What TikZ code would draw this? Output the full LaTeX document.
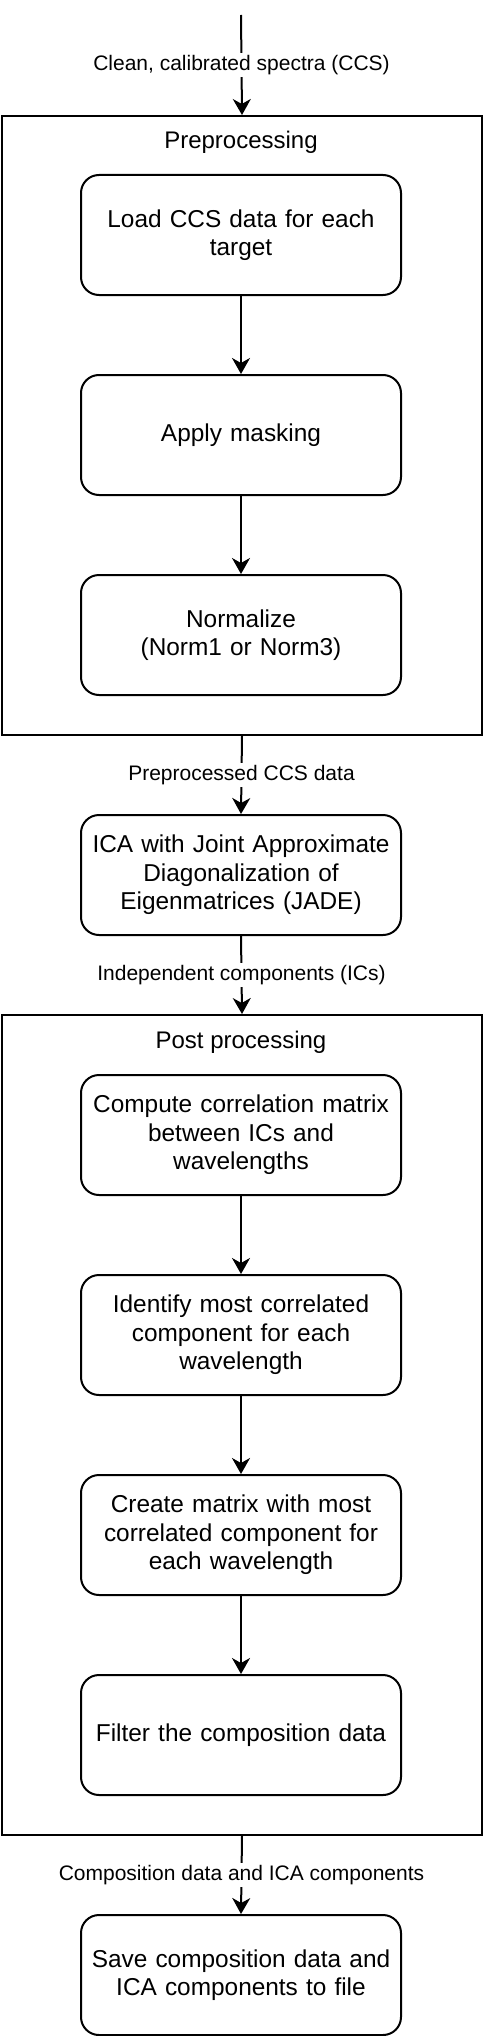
\documentclass[tikz,border=0pt]{standalone}
\usepackage{fontspec}
\setmainfont{Liberation Sans}
\usetikzlibrary{arrows.meta}
\begin{document}
\begin{tikzpicture}[x=1pt,y=-1pt, line width=2pt,
  stepbox/.style={draw, rounded corners=18pt, minimum width=320pt, minimum height=120pt, text width=310pt, align=center, font=\fontsize{24.4}{28.5}\selectfont, inner sep=0pt},
  group/.style={draw, minimum width=480pt, anchor=north west, inner sep=0pt},
  grouptitle/.style={font=\fontsize{24}{28}\selectfont, inner sep=0pt},
  elabel/.style={fill=white, font=\fontsize{21}{25}\selectfont, inner sep=2pt},
  flow/.style={-{Stealth[length=16pt,width=18pt,inset=5pt]}}]
\useasboundingbox (0,0) rectangle (482,2036);
% groups
\node[group, minimum height=619pt] (pre) at (1,115) {};
\node[grouptitle] (pretitle) at (241,142) {Preprocessing};
\node[group, minimum height=820pt] (post) at (1,1014) {};
\node[grouptitle] (posttitle) at (241,1042) {Post processing};
% steps
\node[stepbox] (load) at (241,235) {Load CCS data for each\\target};
\node[stepbox] (mask) at (241,435) {Apply masking};
\node[stepbox] (norm) at (241,635) {Normalize\\(Norm1 or Norm3)};
\node[stepbox] (ica) at (241,875) {ICA with Joint Approximate\\Diagonalization of\\Eigenmatrices (JADE)};
\node[stepbox] (corr) at (241,1135) {Compute correlation matrix\\between ICs and\\wavelengths};
\node[stepbox] (ident) at (241,1335) {Identify most correlated\\component for each\\wavelength};
\node[stepbox] (create) at (241,1535) {Create matrix with most\\correlated component for\\each wavelength};
\node[stepbox] (filter) at (241,1735) {Filter the composition data};
\node[stepbox] (save) at (241,1975) {Save composition data and\\ICA components to file};
% connectors
\coordinate (start) at (241,15);
\draw[flow] (start) -- node[elabel] {Clean, calibrated spectra (CCS)} (pre.north);
\draw[flow] (load) -- (mask);
\draw[flow] (mask) -- (norm);
\draw[flow] (pre.south) -- node[elabel] {Preprocessed CCS data} (ica.north);
\draw[flow] (ica.south) -- node[elabel] {Independent components (ICs)} (post.north);
\draw[flow] (corr) -- (ident);
\draw[flow] (ident) -- (create);
\draw[flow] (create) -- (filter);
\draw[flow] (post.south) -- node[elabel] {Composition data and ICA components} (save.north);
\end{tikzpicture}
\end{document}
